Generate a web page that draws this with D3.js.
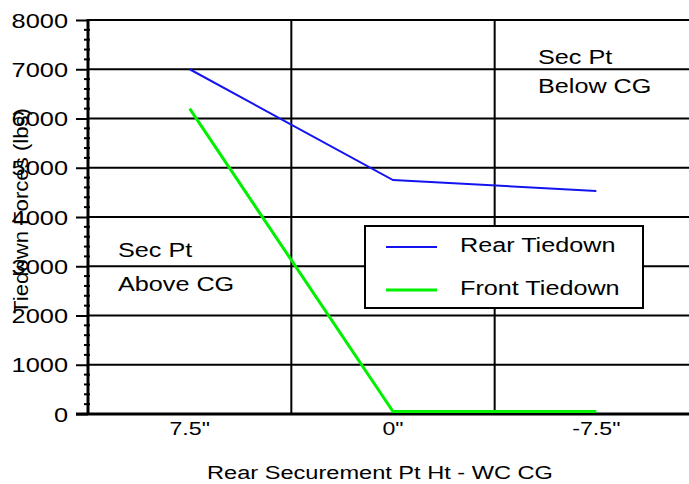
<!DOCTYPE html>
<html>
<head>
<script type="text/javascript" src="https://cdn.jsdelivr.net/npm/d3@7"></script>
<style>
  body { margin: 0; background: white; }
  text { font-family: "Liberation Sans", Arial, sans-serif; }
</style>
</head>
<body>
<script>

var width = 689,
    height = 484;

// data
var categories = ['7.5"', '0"', '-7.5"'];
var rearTiedown = [7000, 4750, 4530];
var frontTiedown = [6200, 50, 50];
var yTicks = [0, 1000, 2000, 3000, 4000, 5000, 6000, 7000, 8000];

var padL = 88, padR = 698, padT = 20, padB = 414;

var svg = d3.select("body")
            .append("svg")
            .attr("width", width)
            .attr("height", height)
            .style("background", "white");

var x = d3.scaleBand()
          .domain(categories)
          .range([padL, padR]);

var y = d3.scaleLinear()
          .domain([0, 8000])
          .range([padB, padT]);

// horizontal grid
svg.append("g")
   .selectAll("line")
   .data(yTicks.slice(1))
   .enter()
   .append("line")
   .attr("x1", padL)
   .attr("x2", width)
   .attr("y1", function (d) { return y(d); })
   .attr("y2", function (d) { return y(d); })
   .style("stroke", "black")
   .style("stroke-width", 2);

// vertical grid at category boundaries
svg.append("g")
   .selectAll("line")
   .data(categories.slice(1))
   .enter()
   .append("line")
   .attr("x1", function (d) { return x(d); })
   .attr("x2", function (d) { return x(d); })
   .attr("y1", padT)
   .attr("y2", padB)
   .style("stroke", "black")
   .style("stroke-width", 2);

// y axis
var ySx = 1.3;
var yAxis = d3.axisLeft(y)
              .tickValues(yTicks)
              .tickSize(12)
              .tickFormat(d3.format("d"));

var yAxisG = svg.append("g")
                .attr("transform", "translate(" + padL + ",0)")
                .call(yAxis);
yAxisG.select(".domain").remove();
yAxisG.selectAll("line").style("stroke", "black").style("stroke-width", 2);
yAxisG.selectAll("text")
      .attr("x", -20 / ySx)
      .attr("transform", "scale(" + ySx + ",1)")
      .attr("dy", "0.36em")
      .style("font-size", "19.5px")
      .style("fill", "black");

// minor ticks
var minor = d3.range(0, 8001, 200).filter(function (d) { return d % 1000 != 0; });
svg.append("g")
   .selectAll("line")
   .data(minor)
   .enter()
   .append("line")
   .attr("x1", padL - 4)
   .attr("x2", padL + 2)
   .attr("y1", function (d) { return y(d); })
   .attr("y2", function (d) { return y(d); })
   .style("stroke", "black")
   .style("stroke-width", 2);

svg.append("line")
   .attr("x1", padL).attr("x2", padL)
   .attr("y1", padT - 1).attr("y2", padB)
   .style("stroke", "black")
   .style("stroke-width", 3);

// x axis
var xSx = 1.22;
var xAxis = d3.axisBottom(x).tickSize(0).tickPadding(8);
var xAxisG = svg.append("g")
                .attr("transform", "translate(0," + padB + ")")
                .call(xAxis);
xAxisG.select(".domain").remove();
xAxisG.selectAll("text")
      .attr("transform", "scale(" + xSx + ",1)")
      .style("font-size", "19px")
      .style("fill", "black");

svg.append("line")
   .attr("x1", padL - 12).attr("x2", width)
   .attr("y1", padB).attr("y2", padB)
   .style("stroke", "black")
   .style("stroke-width", 3);

// series
var line = d3.line()
             .x(function (d, i) { return x(categories[i]) + x.bandwidth() / 2; })
             .y(function (d) { return y(d); });

svg.append("path")
   .datum(rearTiedown)
   .attr("d", line)
   .style("fill", "none")
   .style("stroke", "#1414f0")
   .style("stroke-width", 2);

svg.append("path")
   .datum(frontTiedown)
   .attr("d", line)
   .style("fill", "none")
   .style("stroke", "#00f000")
   .style("stroke-width", 3);

// stretched text helper (the original font is wide)
function wideText(px, py, s, size, sx, anchor) {
  return svg.append("text")
            .attr("transform", "translate(" + px + "," + py + ") scale(" + sx + ",1)")
            .attr("text-anchor", anchor || "start")
            .style("font-size", size + "px")
            .style("fill", "black")
            .text(s);
}

// annotations
wideText(538, 64, "Sec Pt", 21, 1.2);
wideText(538, 93, "Below CG", 21, 1.2);
wideText(118, 257, "Sec Pt", 21, 1.2);
wideText(118, 291, "Above CG", 21, 1.2);

// legend
var legendItems = [{name: "Rear Tiedown", col: "#1414f0", w: 2}, {name: "Front Tiedown", col: "#00f000", w: 3}];
svg.append("rect")
   .attr("x", 365)
   .attr("y", 226)
   .attr("width", 278)
   .attr("height", 82)
   .style("fill", "white")
   .style("stroke", "black")
   .style("stroke-width", 2);
legendItems.forEach(function (d, i) {
  var ly = 247 + i * 43;
  svg.append("line")
     .attr("x1", 386).attr("x2", 437)
     .attr("y1", ly).attr("y2", ly)
     .style("stroke", d.col)
     .style("stroke-width", d.w);
  wideText(460, ly + 5, d.name, 21, 1.2);
});

// axis titles
wideText(380, 479, "Rear Securement Pt Ht - WC CG", 18, 1.31, "middle");

svg.append("text")
   .attr("transform", "translate(28,211) rotate(-90) scale(1.08,1)")
   .attr("text-anchor", "middle")
   .style("font-size", "20.5px")
   .text("Tiedown Forces (lbs)");

</script>
</body>
</html>
